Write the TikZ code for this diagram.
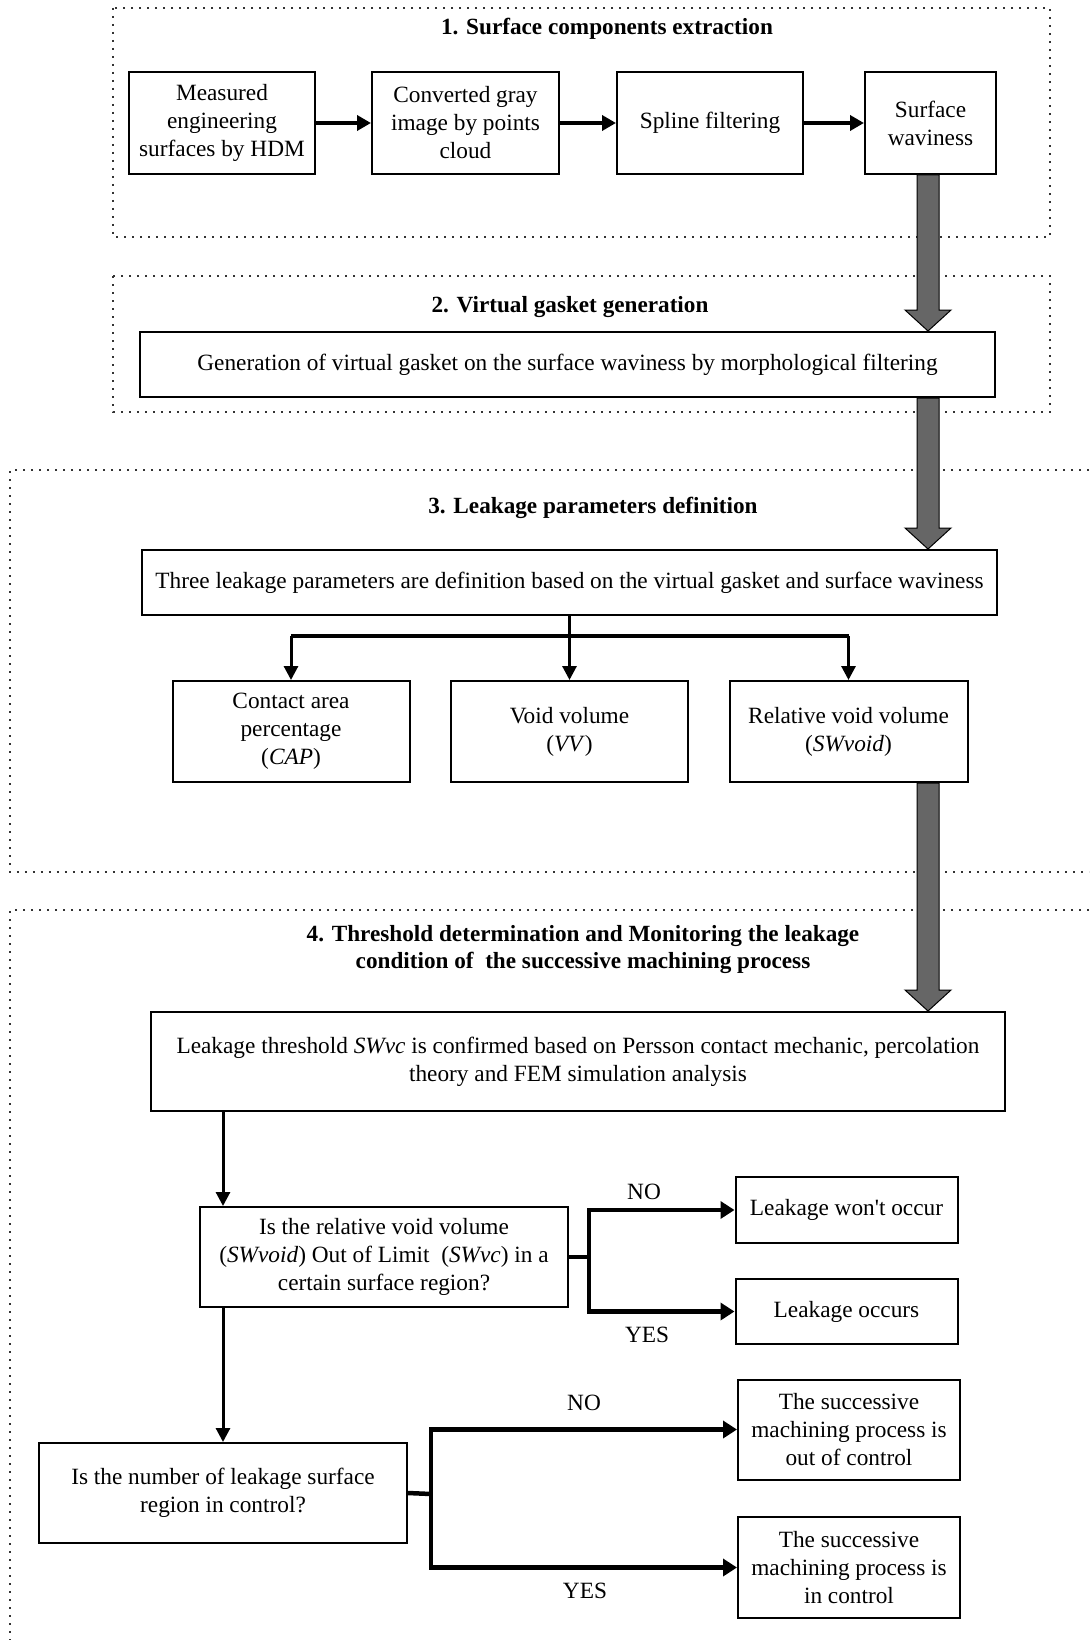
\documentclass[tikz,border=0pt]{standalone}
\usepackage{fontspec}
\setmainfont{Liberation Serif}
\usetikzlibrary{arrows.meta,calc}
\definecolor{arrgray}{HTML}{666666}
\definecolor{dotgray}{HTML}{333333}
\newcommand\grayarrow[2]{%
  \path[fill=arrgray, draw=black, line width=1pt] let \p1=(#1), \p2=(#2) in
  (\x1-11pt,\y1) -- (\x1+11pt,\y1) -- (\x1+11pt,\y2+21pt) -- (\x1+23pt,\y2+21pt)
  -- (\x1,\y2) -- (\x1-23pt,\y2+21pt) -- (\x1-11pt,\y2+21pt) -- cycle;}
\begin{document}
\begin{tikzpicture}[x=1pt,y=-1pt,
  txt/.style={font=\fontsize{23.3}{28}\selectfont},
  box/.style={txt, draw, line width=2pt, align=center, inner sep=2pt},
  title/.style={font=\fontsize{23.2}{27}\selectfont\bfseries, align=center},
  dotbox/.style={draw=dotgray, line width=1.8pt, dash pattern=on 1.6pt off 6.4pt},
  arr/.style={line width=3pt, -{Triangle[length=14pt,width=14pt]}},
  harr/.style={line width=4pt, -{Triangle[length=14pt,width=15pt]}},
  barr/.style={line width=4.5pt, -{Triangle[length=14pt,width=17pt]}},
  lab/.style={txt}]
\useasboundingbox (0,0) rectangle (1089,1640);
\fill[white] (0,0) rectangle (1089,1640);

% dotted section frames
\draw[dotbox] (113,8) rectangle (1050,237);
\draw[dotbox] (113,276) rectangle (1050,412);
\draw[dotbox] (1089,470) -- (10,470) -- (10,872) -- (1089,872);
\draw[dotbox] (1089,910) -- (10,910) -- (10,1640);

% titles
\node[title] (t1) at (607,29) {1. Surface components extraction};
\node[title] (t2) at (570,307) {2. Virtual gasket generation};
\node[title] (t3) at (593,508) {3. Leakage parameters definition};
\node[title] (t4) at (583,949) {4. Threshold determination and Monitoring the leakage\\condition of~~the successive machining process};

% section 1
\node[box, minimum width=186, minimum height=102] (meas) at (222,123) {Measured\\engineering\\surfaces by HDM};
\node[box, minimum width=187, minimum height=102] (conv) at (465.5,123) {Converted gray\\image by points\\cloud};
\node[box, minimum width=186, minimum height=102] (spl) at (710,123) {Spline filtering};
\node[box, minimum width=131, minimum height=102] (wav) at (930.5,123) {Surface\\waviness};
\draw[harr] (meas) -- (conv);
\draw[harr] (conv) -- (spl);
\draw[harr] (spl) -- (wav);

% section 2
\node[box, minimum width=855, minimum height=65] (gen) at (567.5,364.5) {Generation of virtual gasket on the surface waviness by morphological filtering};

% section 3
\node[box, minimum width=855, minimum height=65] (three) at (569.5,582.5) {Three leakage parameters are definition based on the virtual gasket and surface waviness};
\node[box, minimum width=237, minimum height=101] (cap) at (291,731.5) {Contact area\\percentage\\(\textit{CAP})};
\node[box, minimum width=237, minimum height=101] (vv) at (569.5,731.5) {Void volume\\(\textit{VV})};
\node[box, minimum width=238, minimum height=101] (swv) at (848.5,731.5) {Relative void volume\\(\textit{SWvoid})};
\coordinate (bar3) at ($(three.south)+(0,20)$);
\draw[line width=4.5pt] (bar3 -| cap.north) -- (bar3 -| swv.north);
\draw[arr] (three.south) -- (vv.north);
\draw[arr] (bar3 -| cap.north) -- (cap.north);
\draw[arr] (bar3 -| swv.north) -- (swv.north);

% section 4
\node[box, minimum width=854, minimum height=99] (thr) at (578,1061.5) {Leakage threshold \textit{SWvc} is confirmed based on Persson contact mechanic, percolation\\theory and FEM simulation analysis};
\node[box, minimum width=368, minimum height=100] (d1) at (384,1257) {Is the relative void volume\\(\textit{SWvoid}) Out of Limit~~(\textit{SWvc}) in a\\certain surface region?};
\node[box, minimum width=222, minimum height=66] (won) at (846.5,1210) {Leakage won\textquotesingle t occur};
\node[box, minimum width=222, minimum height=65] (occ) at (846.5,1311.5) {Leakage occurs};
\node[box, minimum width=368, minimum height=100] (d2) at (223,1493) {Is the number of leakage surface\\region in control?};
\node[box, minimum width=222, minimum height=100] (out) at (849,1429.5) {The successive\\machining process is\\out of control};
\node[box, minimum width=222, minimum height=101] (inc) at (849,1567.5) {The successive\\machining process is\\in control};

\draw[arr] (thr.south -| d2.north) -- (d1.north -| d2.north);
\draw[arr] (d1.south -| d2.north) -- (d2.north);

\coordinate (j1) at (589,1257);
\draw[line width=4.5pt] (d1.east) -- (j1);
\draw[barr] (j1) |- (won.west);
\draw[barr] (j1) |- (occ.west);
\node[lab] (no1) at (644,1192) {NO};
\node[lab] (yes1) at (647,1335) {YES};

\coordinate (j2) at (431,1494);
\draw[line width=4.5pt] (d2.east) -- (j2);
\draw[barr] (j2) |- (out.west);
\draw[barr] (j2) |- (inc.west);
\node[lab] (no2) at (584,1403) {NO};
\node[lab] (yes2) at (585,1591) {YES};

% gray flow arrows
\coordinate (ax) at (928,0);
\grayarrow{ax |- wav.south}{ax |- gen.north}
\grayarrow{ax |- gen.south}{ax |- three.north}
\grayarrow{ax |- swv.south}{ax |- thr.north}
\end{tikzpicture}
\end{document}
